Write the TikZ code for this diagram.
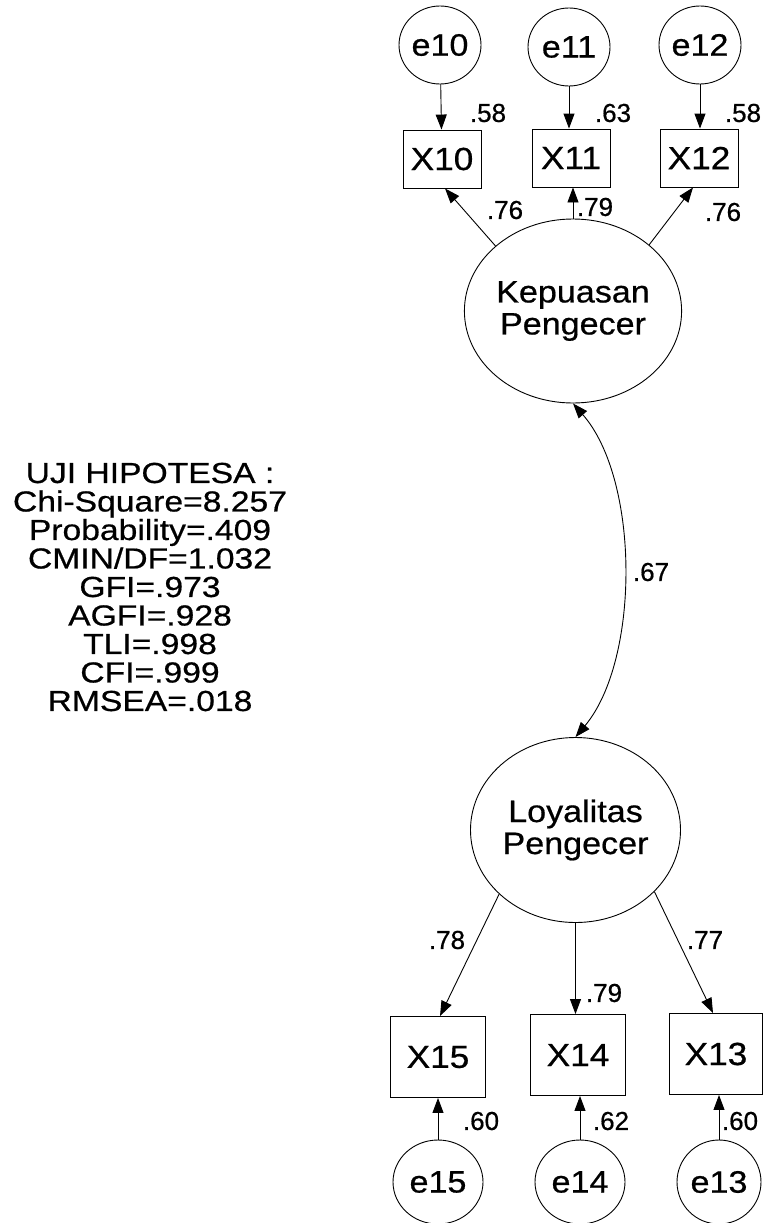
\documentclass[tikz,border=0pt]{standalone}
\usepackage{fontspec}
\setmainfont[FakeBold=0.6]{Liberation Sans}
\newfontfamily\statfont[FakeStretch=1.16,FakeBold=0.6]{Liberation Sans}
\newfontfamily\lblfont[FakeStretch=1.1,FakeBold=0.6]{Liberation Sans}
\usetikzlibrary{shapes.geometric,arrows.meta}
\begin{document}
\begin{tikzpicture}[x=1pt,y=-1pt,
  lat/.style={ellipse, draw, line width=0.9pt, minimum width=200pt, minimum height=184pt, inner sep=0pt, align=center, font=\lblfont\fontsize{31}{32}\selectfont},
  err/.style={ellipse, draw, line width=0.9pt, minimum width=82pt, minimum height=78pt, inner sep=0pt, font=\lblfont\fontsize{31}{32}\selectfont},
  obs/.style={rectangle, draw, line width=0.9pt, minimum width=78pt, minimum height=58pt, inner sep=0pt, font=\lblfont\fontsize{32}{33}\selectfont},
  obsb/.style={obs, minimum width=95pt, minimum height=81pt},
  num/.style={inner sep=0pt, font=\fontsize{26}{27}\selectfont},
  arr/.style={-{Triangle[length=15pt,width=11pt]}, line width=0.9pt},
  darr/.style={{Triangle[length=15pt,width=11pt]}-{Triangle[length=15pt,width=11pt]}, line width=0.9pt}
]
\useasboundingbox (0,0) rectangle (764,1223);

% top error terms and indicators
\node[err] (e10) at (440,45) {e10};
\node[err] (e11) at (569,47) {e11};
\node[err] (e12) at (700,45) {e12};
\node[obs] (X10) at (442,159) {X10};
\node[obs] (X11) at (571,158) {X11};
\node[obs] (X12) at (699,158) {X12};

\node[lat] (Kep) at (573,311) {Kepuasan\\Pengecer};
\node[lat, minimum width=210pt, minimum height=185pt] (Loy) at (575.5,830) {Loyalitas\\Pengecer};

% bottom indicators and error terms
\node[obsb] (X15) at (438,1057) {X15};
\node[obsb] (X14) at (578,1055) {X14};
\node[obsb, minimum width=93pt] (X13) at (716,1054) {X13};
\node[err, minimum width=90pt, minimum height=84pt] (e15) at (438,1182) {e15};
\node[err, minimum width=90pt, minimum height=84pt] (e14) at (580,1182) {e14};
\node[err, minimum width=84pt, minimum height=84pt] (e13) at (719,1182) {e13};

% arrows top
\draw[arr] (e10) -- (X10);
\draw[arr] (e11.south) -- (e11.south |- X11.north);
\draw[arr] (e12.south) -- (e12.south |- X12.north);
\draw[arr] (Kep.140) -- ([xshift=3pt]X10.south);
\draw[arr] (Kep.north) -- (Kep.north |- X11.south);
\draw[arr] (Kep.41) -- ([xshift=-6pt]X12.south);

% correlation
\draw[darr] (Kep.south) .. controls (640,480) and (640,660) .. (Loy.north);

% arrows bottom
\draw[arr] (Loy.220) -- ([xshift=2pt]X15.north);
\draw[arr] (Loy.south) -- (Loy.south |- X14.north);
\draw[arr] (Loy.-38) -- ([xshift=-3pt]X13.north);
\draw[arr] (e15) -- (X15);
\draw[arr] (e14.north) -- (e14.north |- X14.south);
\draw[arr] (e13.north) -- (e13.north |- X13.south);

% coefficient labels
\node[num] (n58a) at (488,113) {.58};
\node[num] (n63) at (613,113) {.63};
\node[num] (n58b) at (743,113) {.58};
\node[num] (n76a) at (505,210) {.76};
\node[num] (n79a) at (595,207) {.79};
\node[num] (n76b) at (723,212) {.76};
\node[num] (n67) at (651,572) {.67};
\node[num] (n78) at (447,940) {.78};
\node[num] (n79b) at (604,993) {.79};
\node[num] (n77) at (705,940) {.77};
\node[num] (n60a) at (481,1121) {.60};
\node[num] (n62) at (611,1121) {.62};
\node[num] (n60b) at (740,1121) {.60};

% fit statistics
\node[align=center, inner sep=0pt, font=\statfont\fontsize{29}{28.5}\selectfont] (stats) at (150,587)
 {UJI HIPOTESA :\\Chi-Square=8.257\\Probability=.409\\CMIN/DF=1.032\\GFI=.973\\AGFI=.928\\TLI=.998\\CFI=.999\\RMSEA=.018};
\end{tikzpicture}
\end{document}
